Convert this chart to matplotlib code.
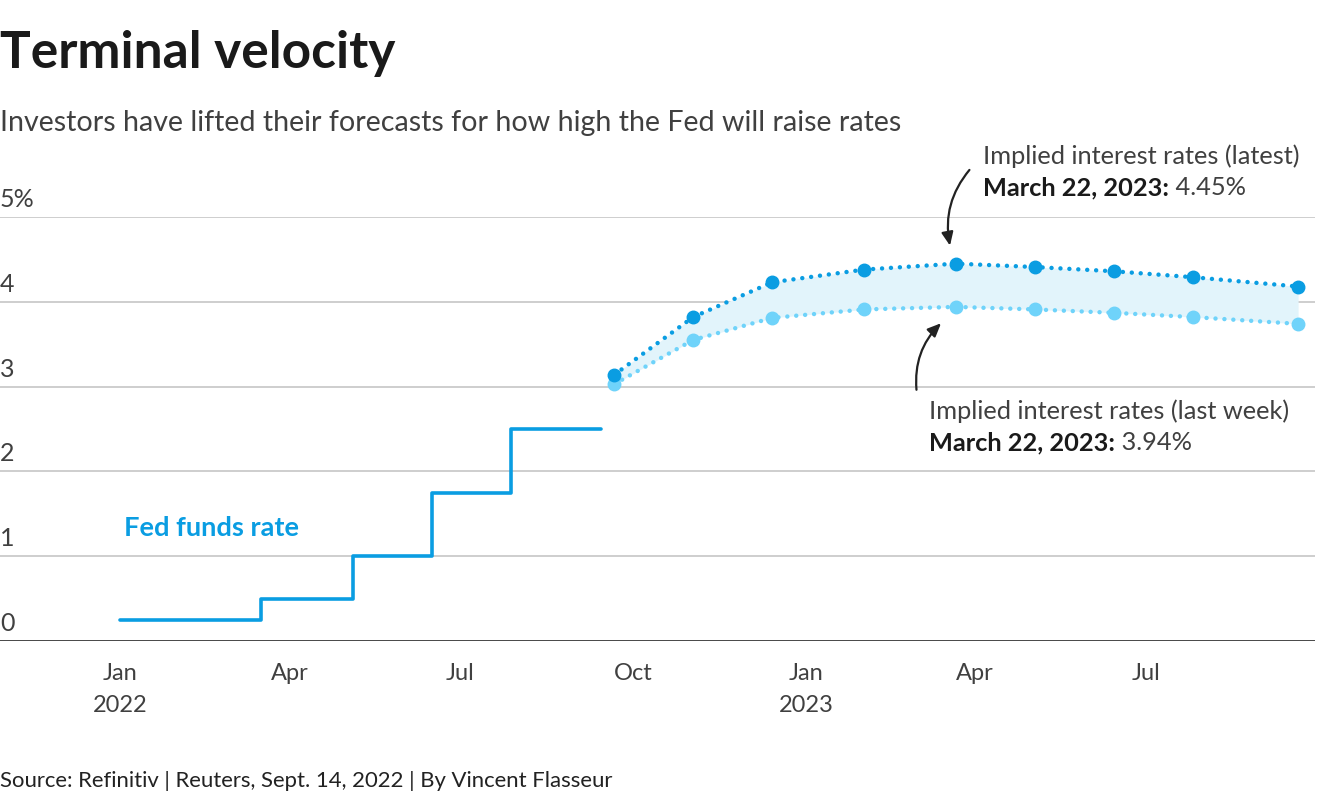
import matplotlib
matplotlib.use("Agg")
import matplotlib.pyplot as plt
import pandas as pd

plt.rcParams["font.family"] = ["Lato", "DejaVu Sans"]

# Fed funds rate (upper bound of target range), step dates
ffr_dates = pd.to_datetime(["2022-01-01", "2022-03-17", "2022-05-05",
                            "2022-06-16", "2022-07-28", "2022-09-14"])
ffr_values = [0.25, 0.5, 1.0, 1.75, 2.5, 2.5]

# Implied rates at upcoming FOMC meetings
fomc_dates = pd.to_datetime(["2022-09-21", "2022-11-02", "2022-12-14",
                             "2023-02-01", "2023-03-22", "2023-05-03",
                             "2023-06-14", "2023-07-26", "2023-09-20"])
implied_latest = [3.14, 3.82, 4.23, 4.38, 4.45, 4.41, 4.36, 4.29, 4.18]
implied_last_week = [3.03, 3.55, 3.81, 3.91, 3.94, 3.91, 3.87, 3.82, 3.74]

tick_dates = pd.to_datetime(["2022-01-01", "2022-04-01", "2022-07-01", "2022-10-01",
                             "2023-01-01", "2023-04-01", "2023-07-01"])
tick_labels = ["Jan\n2022", "Apr", "Jul", "Oct", "Jan\n2023", "Apr", "Jul"]
y_ticks = [0, 1, 2, 3, 4, 5]
y_labels = ["0", "1", "2", "3", "4", "5%"]

c_dark = "#0a9de2"
c_light = "#6fd3fa"
c_fill = "#e2f4fb"
c_text = "#404040"

W, H = 1320, 800
fig = plt.figure(figsize=(W / 100, H / 100), dpi=100)
ax = fig.add_axes([0, 1 - 641 / H, 1315 / W, (641 - 217) / H])

ax.set_xlim(pd.Timestamp("2021-10-29"), pd.Timestamp("2023-09-29"))
ax.set_ylim(0, 5)

for y in y_ticks[1:]:
    ax.axhline(y, color="#c6c6c6", lw=1.2, zorder=0)
ax.axhline(0, color="#111111", lw=1.8, zorder=3)
for y, lab in zip(y_ticks, y_labels):
    ax.text(0, y + 0.07, lab, transform=ax.get_yaxis_transform(),
            ha="left", va="bottom", fontsize=18, color=c_text)

for s in ax.spines.values():
    s.set_visible(False)
ax.set_yticks([])
ax.set_xticks(tick_dates)
ax.set_xticklabels(tick_labels, fontsize=17, color=c_text, linespacing=1.65)
ax.tick_params(axis="x", length=0, pad=16)

ax.plot(ffr_dates, ffr_values, drawstyle="steps-post", color=c_dark, lw=2.6,
        solid_capstyle="round", zorder=4)
ax.text(pd.Timestamp("2022-01-03"), 1.24, "Fed funds rate", color=c_dark,
        fontsize=19.6, fontweight="bold", ha="left", va="baseline")

ax.fill_between(fomc_dates, implied_last_week, implied_latest, color=c_fill, lw=0, zorder=1)
ax.plot(fomc_dates, implied_last_week, color=c_light, lw=3.2,
        linestyle=(0, (0.01, 2.0)), dash_capstyle="round", zorder=4)
ax.plot(fomc_dates, implied_last_week, "o", color=c_light, ms=9, zorder=5)
ax.plot(fomc_dates, implied_latest, color=c_dark, lw=3.2,
        linestyle=(0, (0.01, 2.0)), dash_capstyle="round", zorder=4)
ax.plot(fomc_dates, implied_latest, "o", color=c_dark, ms=9, zorder=6)

# arrows
arrow = dict(arrowstyle="-|>,head_length=0.8,head_width=0.35", color="#222222", lw=1.6)
ax.annotate("", xy=(pd.Timestamp("2023-03-19"), 4.63), xytext=(pd.Timestamp("2023-03-30"), 5.58),
            arrowprops=dict(arrow, connectionstyle="arc3,rad=0.25"), annotation_clip=False)
ax.annotate("", xy=(pd.Timestamp("2023-03-15"), 3.77), xytext=(pd.Timestamp("2023-03-01"), 2.93),
            arrowprops=dict(arrow, connectionstyle="arc3,rad=-0.25"), annotation_clip=False)


def label(x, y, line1, bold, value):
    fig.text(x / W, 1 - y / H, line1, fontsize=18.3, color=c_text,
             ha="left", va="baseline")
    t = fig.text(x / W, 1 - (y + 31) / H, bold, fontsize=18.3, color="#1a1a1a",
                 fontweight="bold", ha="left", va="baseline")
    ax.annotate(" " + value, xy=(1, 0), xycoords=t, va="bottom", ha="left",
                fontsize=18.3, color=c_text, annotation_clip=False)


label(983, 164, "Implied interest rates (latest)", "March 22, 2023:", "4.45%")
label(929, 419, "Implied interest rates (last week)", "March 22, 2023:", "3.94%")

fig.text(0, 1 - 68 / H, "Terminal velocity", fontsize=37, fontweight="bold",
         color="#1a1a1a", ha="left", va="baseline")
fig.text(0, 1 - 131 / H, "Investors have lifted their forecasts for how high the Fed will raise rates",
         fontsize=20.6, color=c_text, ha="left", va="baseline")
fig.text(0, 1 - 787 / H, "Source: Refinitiv | Reuters, Sept. 14, 2022 | By Vincent Flasseur",
         fontsize=15.9, color="#222222", ha="left", va="baseline")

fig.savefig("out.png", dpi=100)
